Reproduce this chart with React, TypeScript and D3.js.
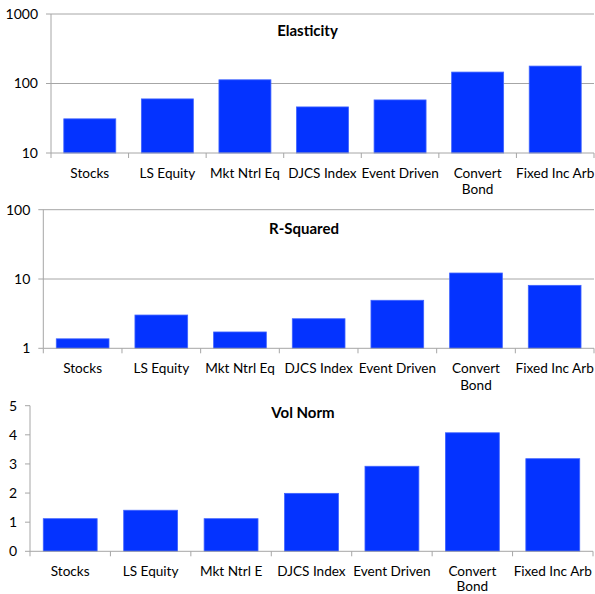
import React from "react";
import * as d3 from "d3";

const categories = ["Stocks", "LS Equity", "Mkt Ntrl Eq", "DJCS Index", "Event Driven", "Convert\nBond", "Fixed Inc Arb"];
const categories3 = ["Stocks", "LS Equity", "Mkt Ntrl E", "DJCS Index", "Event Driven", "Convert\nBond", "Fixed Inc Arb"];
const elasticity = [31, 60, 113, 46, 58, 146, 178];
const rSquared = [1.37, 3.02, 1.72, 2.67, 4.93, 12.2, 8.1];
const volNorm = [1.12, 1.41, 1.12, 1.99, 2.92, 4.07, 3.18];
const elasticityTicks = [10, 100, 1000];
const rSquaredTicks = [1, 10, 100];
const volNormTicks = [0, 1, 2, 3, 4, 5];

const FONT = "Lato, 'Open Sans', sans-serif";
const BAR = "#0433FF";
const GRID = "#A6A6A6";

type PanelProps = {
  title: string;
  cats: string[];
  values: number[];
  ticks: number[];
  log: boolean;
  left: number;
  right: number;
  top: number;
  bottom: number;
  titleX: number;
  titleY: number;
  grid: boolean;
  lineGap: number;
};

function Panel(p: PanelProps) {
  const domain = [p.ticks[0], p.ticks[p.ticks.length - 1]];
  const y = p.log
    ? d3.scaleLog().domain(domain).range([p.bottom, p.top])
    : d3.scaleLinear().domain(domain).range([p.bottom, p.top]);
  const x = d3.scaleBand<string>().domain(p.cats).range([p.left, p.right]).paddingInner(0.33).paddingOuter(0.165);
  const step = x.step();
  return (
    <g>
      {p.ticks.map((t) => (
        <g key={t}>
          {p.grid && t !== domain[0] ? (
            <line x1={p.left - 5} x2={p.right} y1={y(t)} y2={y(t)} stroke={GRID} strokeWidth={1} />
          ) : (
            <line x1={p.left - 5} x2={p.left} y1={y(t)} y2={y(t)} stroke={GRID} strokeWidth={1} />
          )}
          <text x={p.left - 13} y={y(t)} dy="0.35em" textAnchor="end" fontSize={14} fontFamily={FONT} fill="#000">
            {t}
          </text>
        </g>
      ))}
      <line x1={p.left} x2={p.left} y1={p.top} y2={p.bottom} stroke={GRID} strokeWidth={1} />
      {p.cats.map((c, i) => (
        <rect
          key={c}
          x={x(c)!}
          y={y(p.values[i])}
          width={x.bandwidth()}
          height={p.bottom - y(p.values[i])}
          fill={BAR}
          stroke="#3F63FF"
          strokeWidth={0.8}
        />
      ))}
      <line x1={p.left} x2={p.right} y1={p.bottom} y2={p.bottom} stroke={GRID} strokeWidth={1} />
      {d3.range(p.cats.length + 1).map((i) => (
        <line key={i} x1={p.left + i * step} x2={p.left + i * step} y1={p.bottom} y2={p.bottom + 5} stroke={GRID} strokeWidth={1} />
      ))}
      {p.cats.map((c) => {
        const cx = x(c)! + x.bandwidth() / 2;
        return (
          <text key={c} x={cx} y={p.bottom + 20} textAnchor="middle" fontSize={13.6} fontFamily={FONT} fill="#000">
            {c.split("\n").map((line, j) => (
              <tspan key={j} x={cx} dy={j === 0 ? "0.35em" : p.lineGap}>
                {line}
              </tspan>
            ))}
          </text>
        );
      })}
      <text x={p.titleX} y={p.titleY} dy="0.35em" textAnchor="middle" fontSize={15} fontWeight="bold" fontFamily={FONT} fill="#000">
        {p.title}
      </text>
    </g>
  );
}

export default function App() {
  return (
    <svg width={595} height={594} style={{ position: "absolute", left: 0, top: 0, background: "#fff" }}>
      <Panel title="Elasticity" cats={categories} values={elasticity} ticks={elasticityTicks} log left={51} right={594} top={14} bottom={153} titleX={307.5} titleY={31} grid lineGap={16.5} />
      <Panel title="R-Squared" cats={categories} values={rSquared} ticks={rSquaredTicks} log left={43.3} right={594} top={209.7} bottom={348.3} titleX={304} titleY={229} grid lineGap={16.5} />
      <Panel title="Vol Norm" cats={categories3} values={volNorm} ticks={volNormTicks} log={false} left={30} right={593} top={405.7} bottom={551.3} titleX={303} titleY={412.7} grid={false} lineGap={15} />
    </svg>
  );
}
